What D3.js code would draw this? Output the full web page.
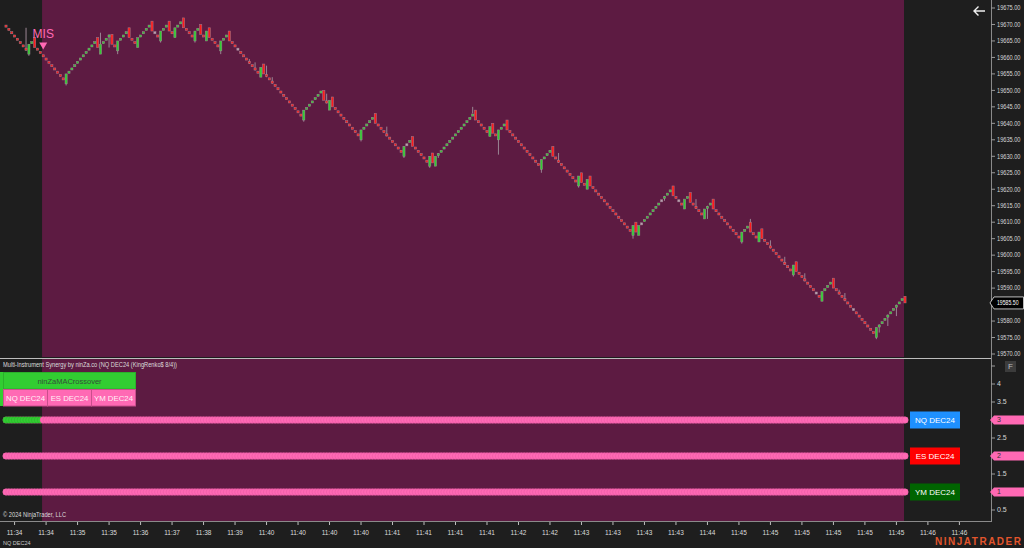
<!DOCTYPE html>
<html>
<head>
<meta charset="utf-8">
<script src="https://cdn.jsdelivr.net/npm/d3@7"></script>
<style>
  html, body { margin: 0; padding: 0; background: #1e1e1e; overflow: hidden; }
  svg { display: block; font-family: "Liberation Sans", Arial, sans-serif; }
</style>
</head>
<body>
<div id="chart"></div>
<script>
// renko closes, one per brick (NQ DEC24, KingRenko 8/4)
const closes = [
  19669,19668,19667,19666,19665,19664,19663,19662,19664,19665,
  19663,19662,19661,19660,19659,19658,19657,19656,19655,19654,
  19653,19655,19656,19657,19658,19659,19660,19661,19662,19663,
  19664,19665,19663,19664,19665,19666,19667,19664,19663,19665,
  19666,19667,19668,19666,19665,19664,19666,19667,19668,19669,
  19670,19668,19667,19666,19668,19669,19670,19668,19667,19669,
  19670,19671,19669,19668,19667,19666,19668,19669,19667,19666,
  19668,19666,19665,19664,19663,19665,19666,19667,19665,19664,
  19663,19662,19661,19660,19659,19658,19657,19656,19655,19657,
  19655,19654,19653,19652,19651,19650,19649,19648,19647,19646,
  19645,19644,19643,19642,19644,19645,19646,19647,19648,19649,
  19650,19647,19646,19647,19645,19644,19643,19642,19641,19640,
  19639,19638,19637,19636,19638,19639,19640,19641,19642,19640,
  19639,19638,19637,19636,19635,19634,19633,19632,19631,19633,
  19634,19635,19633,19632,19631,19630,19629,19628,19630,19628,
  19630,19631,19632,19633,19634,19635,19636,19637,19638,19639,
  19640,19641,19642,19643,19641,19640,19639,19638,19637,19639,
  19637,19636,19638,19639,19640,19638,19637,19636,19635,19634,
  19633,19632,19631,19630,19629,19628,19627,19629,19630,19631,
  19632,19630,19629,19628,19627,19626,19625,19624,19623,19622,
  19624,19622,19621,19623,19621,19620,19619,19618,19617,19616,
  19615,19614,19613,19612,19611,19610,19609,19608,19607,19609,
  19607,19609,19610,19611,19612,19613,19614,19615,19616,19617,
  19618,19619,19620,19618,19617,19616,19615,19617,19618,19616,
  19615,19614,19613,19612,19614,19615,19616,19614,19613,19612,
  19611,19610,19609,19608,19607,19606,19605,19607,19608,19609,
  19607,19606,19605,19607,19605,19604,19603,19602,19601,19600,
  19599,19598,19597,19596,19595,19597,19595,19594,19593,19592,
  19591,19590,19589,19588,19587,19589,19590,19591,19592,19590,
  19589,19588,19587,19586,19585,19584,19583,19582,19581,19580,
  19579,19578,19577,19576,19578,19579,19580,19581,19582,19583,
  19584,19585,19586,19587,19585.5
];

// reversal bricks open away from the previous close
const reversalOpens = {
  8: 19661, 10: 19666, 21: 19652, 32: 19666, 33: 19661, 37: 19667, 39: 19662,
  43: 19669, 46: 19663, 51: 19671, 54: 19665, 57: 19671, 59: 19666, 62: 19672,
  66: 19665, 68: 19670, 70: 19665, 71: 19669, 75: 19662, 78: 19668, 89: 19654,
  90: 19658, 104: 19641, 111: 19650, 113: 19644, 114: 19648, 124: 19635,
  129: 19643, 139: 19630, 142: 19636, 148: 19627, 149: 19631, 150: 19627,
  164: 19644, 169: 19636, 170: 19640, 172: 19635, 175: 19641, 187: 19626,
  191: 19633, 200: 19621, 201: 19625, 203: 19620, 204: 19624, 219: 19606,
  220: 19610, 221: 19606, 233: 19621, 237: 19614, 239: 19619, 244: 19611,
  247: 19617, 257: 19604, 260: 19610, 263: 19604, 264: 19608, 275: 19594,
  276: 19598, 285: 19586, 289: 19593, 304: 19575, 314: 19587.5
};

// visible wick extremes [brick index, price]
const wicks = [
  [7, 19669], [8, 19660.5], [21, 19651.5], [33, 19667.5], [36, 19663], [39, 19661],
  [54, 19664.5], [66, 19664.5], [75, 19661], [85, 19659.5], [87, 19658.5],
  [91, 19657.5], [93, 19654], [104, 19640.5], [112, 19649], [124, 19634.5],
  [133, 19639], [139, 19629.5], [148, 19626.5], [151, 19629.5], [163, 19645],
  [172, 19630.5], [187, 19625], [193, 19631], [200, 19620.5], [219, 19605],
  [230, 19616.5], [241, 19617], [245, 19611], [257, 19603.5], [260, 19611],
  [267, 19604.5], [272, 19599.5], [275, 19593.5], [279, 19594.5], [291, 19589.5],
  [293, 19588.5], [304, 19574.5], [305, 19576.5], [308, 19578.5], [311, 19581.5]
];

const paleBricks = [52, 81, 140, 222, 229, 235, 283, 296];

const priceTicks = [19570, 19575, 19580, 19585, 19590, 19595, 19600, 19605, 19610,
  19615, 19620, 19625, 19630, 19635, 19640, 19645, 19650, 19655, 19660, 19665,
  19670, 19675];

const timeLabels = ["11:34", "11:34", "11:35", "11:35", "11:36", "11:37", "11:38",
  "11:39", "11:40", "11:40", "11:40", "11:40", "11:41", "11:41", "11:41", "11:41",
  "11:42", "11:42", "11:43", "11:43", "11:43", "11:43", "11:44", "11:45", "11:45",
  "11:45", "11:45", "11:45", "11:45", "11:46", "11:46"];

const instruments = ["NQ DEC24", "ES DEC24", "YM DEC24"];
const instrumentValues = [3, 2, 1];
const instrumentColors = ["#1e90ff", "#ff0000", "#006400"];
const oscTicks = [0.5, 1, 1.5, 2, 2.5, 3, 3.5, 4, 4.5];
const nqBullBricks = 13;      // NQ line is green for the first bricks
const sessionStart = 12.6;    // shaded session, in brick index
const sessionEnd = 313.65;
const signalBrick = 13;
const signalText = "MIS";

class RenkoSynergyVis {
  constructor(_parentElement) {
    this.parentElement = _parentElement;
    this.initVis();
  }

  initVis() {
    let vis = this;

    vis.width = 1024;
    vis.height = 548;

    vis.svg = d3.select("#" + vis.parentElement)
      .append("svg")
      .attr("width", vis.width)
      .attr("height", vis.height);

    vis.svg.append("rect")
      .attr("width", vis.width).attr("height", vis.height)
      .attr("fill", "#1e1e1e");

    vis.x = d3.scaleLinear().domain([0, closes.length - 1]).range([6, 905]);
    vis.y = d3.scaleLinear().domain([19570, 19675]).range([354, 8]);
    vis.yOsc = d3.scaleLinear().domain([0.5, 4]).range([510, 384]);

    vis.wrangleData();
  }

  wrangleData() {
    let vis = this;

    vis.bars = closes.map((c, i) => {
      const rev = reversalOpens[i] !== undefined;
      const o = rev ? reversalOpens[i] : (i === 0 ? c + 1 : closes[i - 1]);
      return { i: i, open: o, close: c, reversal: rev };
    });
    vis.lastPrice = closes[closes.length - 1];

    vis.updateVis();
  }

  updateVis() {
    let vis = this;
    const x = vis.x, y = vis.y, yOsc = vis.yOsc;
    const pink = "#ff69b4";
    const axisText = "#d6d6d6";

    // session shading
    vis.svg.append("rect")
      .attr("x", x(sessionStart)).attr("y", 0)
      .attr("width", x(sessionEnd) - x(sessionStart)).attr("height", 357)
      .attr("fill", "#5d1b42");
    vis.svg.append("rect")
      .attr("x", x(sessionStart)).attr("y", 359)
      .attr("width", x(sessionEnd) - x(sessionStart)).attr("height", 162)
      .attr("fill", "#5d1b42");

    // panel lines
    vis.svg.append("line")
      .attr("x1", 0).attr("x2", 991).attr("y1", 358.5).attr("y2", 358.5)
      .attr("stroke", "#bdbdbd");
    vis.svg.append("line")
      .attr("x1", 991.5).attr("x2", 991.5).attr("y1", 0).attr("y2", 522)
      .attr("stroke", "#8a8a8a");
    vis.svg.append("line")
      .attr("x1", 0).attr("x2", 992).attr("y1", 521.5).attr("y2", 521.5)
      .attr("stroke", "#8a8a8a");

    // wicks
    vis.svg.append("g")
      .selectAll("line")
      .data(wicks)
      .join("line")
      .attr("x1", (d) => x(d[0])).attr("x2", (d) => x(d[0]))
      .attr("y1", (d) => y(d[1]))
      .attr("y2", (d) => y(closes[d[0]]))
      .attr("stroke", "#9a8593")
      .attr("stroke-width", 1);

    // bricks: small squares, reversal bricks span their full range
    vis.svg.append("g")
      .selectAll("rect")
      .data(vis.bars)
      .join("rect")
      .attr("x", (d) => x(d.i) - 1.1)
      .attr("width", 2.2)
      .attr("y", (d) => y(Math.max(d.open, d.close)) + (d.reversal ? 0 : 0.6))
      .attr("height", (d) => Math.max(1.5, Math.abs(y(d.open) - y(d.close)) - (d.reversal ? 0 : 1.2)))
      .attr("fill", (d) => paleBricks.includes(d.i) ? "#b9a2b0" : (d.close > d.open ? "#32cd32" : "#ff1a1a"))
      .attr("stroke", "rgba(165,140,155,0.75)")
      .attr("stroke-width", 0.6);

    // MIS marker
    const sx = x(signalBrick);
    const sy = y(closes[signalBrick]);
    vis.svg.append("text")
      .attr("x", sx).attr("y", sy - 19)
      .attr("text-anchor", "middle")
      .attr("fill", pink)
      .attr("font-size", 12)
      .text(signalText);
    vis.svg.append("path")
      .attr("d", `M${sx - 4},${sy - 15}L${sx + 4},${sy - 15}L${sx},${sy - 8}Z`)
      .attr("fill", pink);

    // price axis (the label under the last price tag is hidden)
    const pAxis = vis.svg.append("g");
    pAxis.selectAll("line")
      .data(priceTicks)
      .join("line")
      .attr("x1", 991).attr("x2", 995)
      .attr("y1", (d) => y(d)).attr("y2", (d) => y(d))
      .attr("stroke", "#9a9a9a");
    pAxis.selectAll("text")
      .data(priceTicks.filter((d) => Math.abs(y(d) - y(vis.lastPrice)) > 9))
      .join("text")
      .attr("x", 997).attr("y", (d) => y(d))
      .attr("dy", "0.35em")
      .attr("font-size", 6.5)
      .attr("textLength", 23.5).attr("lengthAdjust", "spacingAndGlyphs")
      .attr("fill", axisText)
      .text((d) => d3.format(".2f")(d));

    // last price tag
    const ly = y(vis.lastPrice);
    vis.svg.append("path")
      .attr("d", `M990,${ly}L994,${ly - 6}H1023.5V${ly + 6}H994Z`)
      .attr("fill", "#000").attr("stroke", "#e8e8e8").attr("stroke-width", 0.8);
    vis.svg.append("text")
      .attr("x", 997).attr("y", ly).attr("dy", "0.35em")
      .attr("font-size", 6.8)
      .attr("textLength", 21.5).attr("lengthAdjust", "spacingAndGlyphs")
      .attr("fill", "#fff")
      .text(d3.format(".2f")(vis.lastPrice));

    // back arrow
    vis.svg.append("path")
      .attr("d", "M985,11H974M978.5,6.5L974,11L978.5,15.5")
      .attr("fill", "none").attr("stroke", "#f0f0f0").attr("stroke-width", 1.4);

    // oscillator panel title and table
    vis.svg.append("text")
      .attr("x", 3).attr("y", 367)
      .attr("font-size", 6.8)
      .attr("textLength", 174).attr("lengthAdjust", "spacingAndGlyphs")
      .attr("fill", "#dcdcdc")
      .text("Multi-Instrument Synergy by ninZa.co (NQ DEC24 (KingRenko$ 8/4))");

    vis.svg.append("rect")
      .attr("x", 0).attr("y", 372).attr("width", 3).attr("height", 34)
      .attr("fill", "#32cd32");
    vis.svg.append("rect")
      .attr("x", 3.5).attr("y", 372.5).attr("width", 132).attr("height", 16.5)
      .attr("fill", "#32cd32").attr("stroke", "#2bb12b");
    vis.svg.append("text")
      .attr("x", 69.5).attr("y", 381).attr("dy", "0.35em")
      .attr("text-anchor", "middle")
      .attr("font-size", 7.5).attr("fill", "#34503a")
      .text("ninZaMACrossover");

    const cellW = 44;
    const cells = vis.svg.append("g")
      .selectAll("g")
      .data(instruments)
      .join("g")
      .attr("transform", (d, i) => `translate(${3.5 + i * cellW},389.5)`);
    cells.append("rect")
      .attr("width", cellW).attr("height", 16.5)
      .attr("fill", pink).attr("stroke", "#c94f8c");
    cells.append("text")
      .attr("x", cellW / 2).attr("y", 8.5).attr("dy", "0.35em")
      .attr("text-anchor", "middle")
      .attr("font-size", 7.8).attr("fill", "#fff0f7")
      .text((d) => d);

    // instrument lines
    const series = instruments.map((name, k) => ({ name: name, value: instrumentValues[k], color: instrumentColors[k] }));
    const lineG = vis.svg.append("g");
    series.forEach((s) => {
      lineG.append("line")
        .attr("x1", x(0)).attr("x2", x(closes.length - 1))
        .attr("y1", yOsc(s.value)).attr("y2", yOsc(s.value))
        .attr("stroke", pink).attr("stroke-width", 6.4)
        .attr("stroke-linecap", "round");
      lineG.append("g")
        .selectAll("circle")
        .data(vis.bars)
        .join("circle")
        .attr("cx", (d) => x(d.i))
        .attr("cy", yOsc(s.value))
        .attr("r", 3.2)
        .attr("fill", (d) => s.name === "NQ DEC24" && d.i < nqBullBricks ? "#32cd32" : pink)
        .attr("stroke", (d) => s.name === "NQ DEC24" && d.i < nqBullBricks ? "#2aa52a" : "#e0559e")
        .attr("stroke-width", 0.4);
    });

    // instrument labels
    const labels = lineG.selectAll("g.lbl")
      .data(series)
      .join("g")
      .attr("class", "lbl")
      .attr("transform", (d) => `translate(910,${yOsc(d.value) - 8.5})`);
    labels.append("rect")
      .attr("width", 50).attr("height", 17)
      .attr("fill", (d) => d.color);
    labels.append("text")
      .attr("x", 25).attr("y", 8.5).attr("dy", "0.35em")
      .attr("text-anchor", "middle")
      .attr("font-size", 8).attr("fill", "#fff")
      .text((d) => d.name);

    // oscillator axis
    const oAxis = vis.svg.append("g");
    oAxis.selectAll("line")
      .data(oscTicks)
      .join("line")
      .attr("x1", 991).attr("x2", 995)
      .attr("y1", (d) => yOsc(d)).attr("y2", (d) => yOsc(d))
      .attr("stroke", "#9a9a9a");
    oAxis.selectAll("text")
      .data(oscTicks.filter((d) => !instrumentValues.includes(d) && d < 4.5))
      .join("text")
      .attr("x", 997).attr("y", (d) => yOsc(d)).attr("dy", "0.35em")
      .attr("font-size", 7).attr("fill", axisText)
      .text((d) => d);

    const tags = oAxis.selectAll("g.tag")
      .data(instrumentValues)
      .join("g")
      .attr("class", "tag")
      .attr("transform", (d) => `translate(0,${yOsc(d)})`);
    tags.append("path")
      .attr("d", "M990,0L994,-4.5H1024V4.5H994Z")
      .attr("fill", pink);
    tags.append("text")
      .attr("x", 997).attr("dy", "0.35em")
      .attr("font-size", 7).attr("fill", "#333")
      .text((d) => d);

    vis.svg.append("rect")
      .attr("x", 1005).attr("y", 361).attr("width", 11).attr("height", 11)
      .attr("fill", "#3c3c3c");
    vis.svg.append("text")
      .attr("x", 1010.5).attr("y", 366.5).attr("dy", "0.35em")
      .attr("text-anchor", "middle")
      .attr("font-size", 8).attr("fill", "#bdbdbd")
      .text("F");

    // time axis
    const tAxis = vis.svg.append("g");
    tAxis.selectAll("line")
      .data(timeLabels)
      .join("line")
      .attr("x1", (d, k) => x(3 + 11 * k)).attr("x2", (d, k) => x(3 + 11 * k))
      .attr("y1", 522).attr("y2", 525)
      .attr("stroke", "#bdbdbd");
    tAxis.selectAll("text")
      .data(timeLabels)
      .join("text")
      .attr("x", (d, k) => x(3 + 11 * k)).attr("y", 535)
      .attr("text-anchor", "middle")
      .attr("font-size", 6.5).attr("fill", "#dcdcdc")
      .text((d) => d);

    vis.svg.append("text")
      .attr("x", 3).attr("y", 517)
      .attr("font-size", 6.8)
      .attr("textLength", 63).attr("lengthAdjust", "spacingAndGlyphs")
      .attr("fill", "#dcdcdc")
      .text("© 2024 NinjaTrader, LLC");
    vis.svg.append("text")
      .attr("x", 3).attr("y", 545)
      .attr("font-size", 5.5).attr("fill", "#c8c8c8")
      .text("NQ DEC24");
    vis.svg.append("text")
      .attr("x", 935).attr("y", 545)
      .attr("font-size", 10).attr("font-weight", "bold")
      .attr("textLength", 86).attr("lengthAdjust", "spacing")
      .attr("fill", "#e2552c")
      .text("NINJATRADER");
  }
}

new RenkoSynergyVis("chart");
</script>
</body>
</html>
